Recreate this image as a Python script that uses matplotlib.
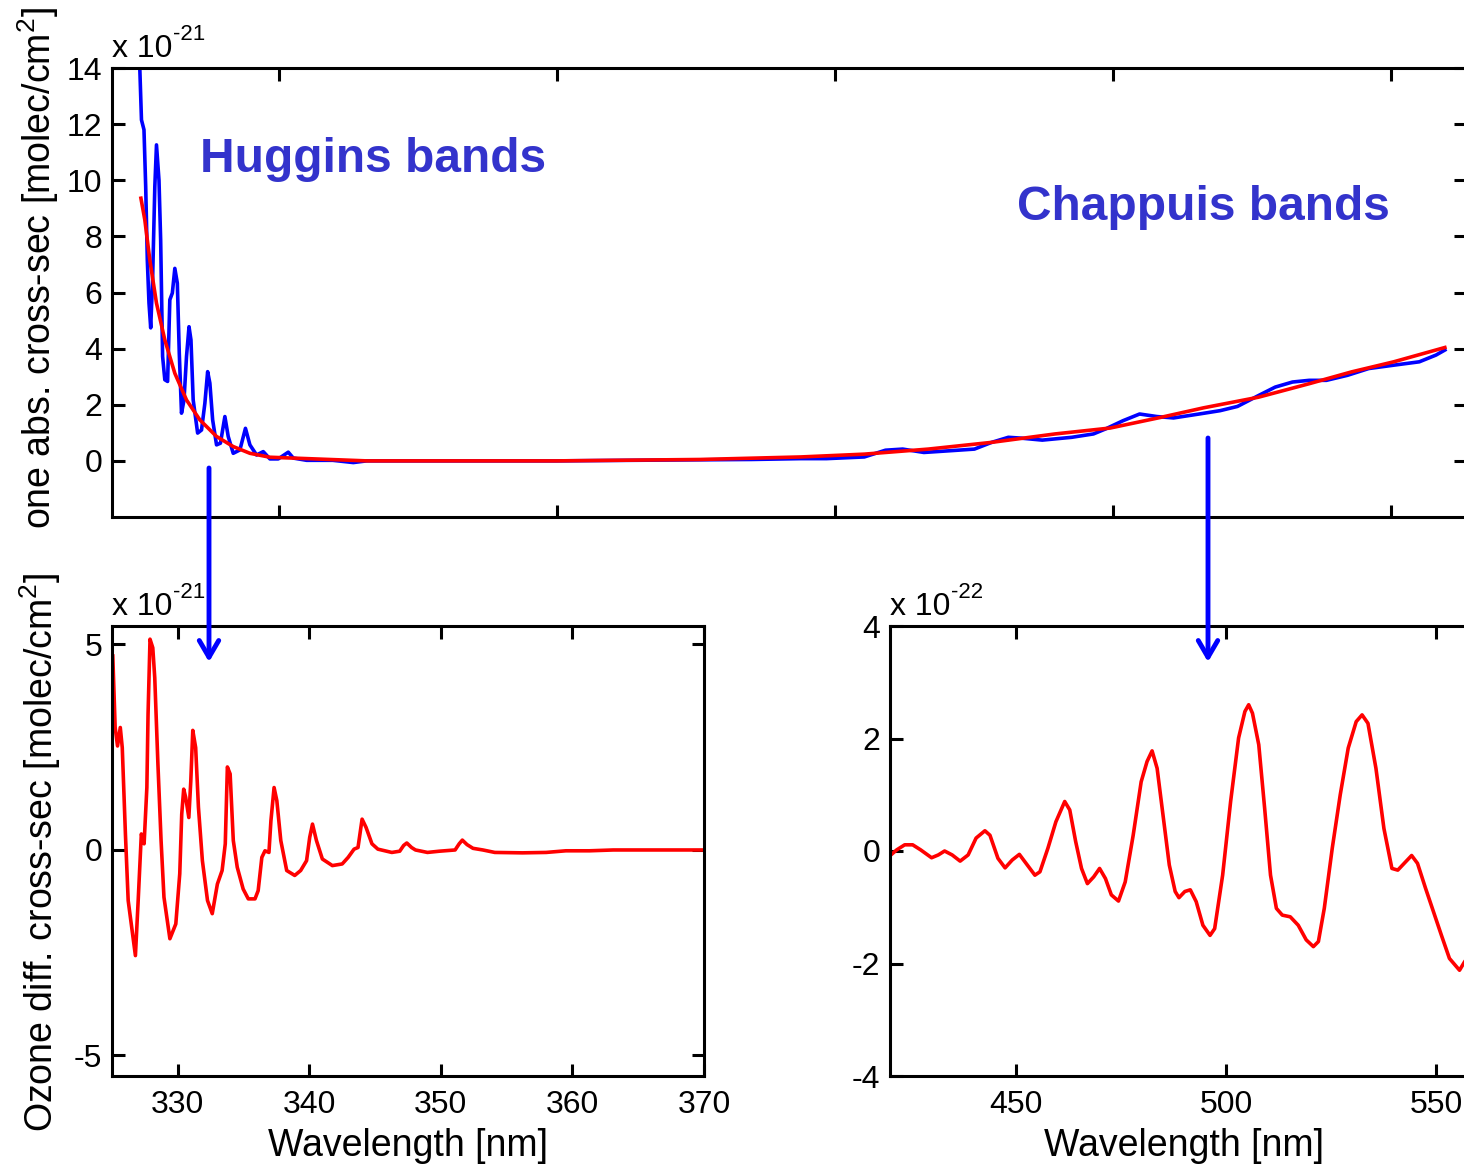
import numpy as np
import matplotlib
matplotlib.use("Agg")
import matplotlib.pyplot as plt
from matplotlib.patches import FancyArrowPatch

plt.rcParams['font.family'] = ['Liberation Sans', 'DejaVu Sans']
plt.rcParams['mathtext.fontset'] = 'custom'
plt.rcParams['mathtext.rm'] = 'Liberation Sans'
plt.rcParams['mathtext.default'] = 'rm'
plt.rcParams['axes.unicode_minus'] = False

# top panel: absorption cross-section (x 1e-21)
abs_wl = [324.9, 325.3, 325.75, 326.06, 326.35, 326.65, 326.96, 327.3, 327.7, 328.0,
          328.45, 328.75, 329.1, 329.5, 330.0, 330.4, 330.85, 331.3, 331.75, 332.1,
          332.5, 332.95, 333.4, 333.85, 334.2, 334.6, 335.4, 336.1, 336.7, 337.2,
          337.6, 338.1, 338.8, 339.5, 340.3, 340.9, 341.8, 343.0, 344.0, 344.8,
          346.0, 347.2, 348.4, 349.9, 351.7, 352.6, 355.0, 359.7, 363.4, 365.8,
          380.0, 400.0, 420.0, 435.0, 443.9, 448.5, 455.3, 459.1, 462.2, 466.0,
          470.6, 475.1, 478.2, 481.2, 483.5, 487.3, 492.6, 496.5, 498.7, 501.8,
          504.8, 507.9, 510.9, 515.5, 519.3, 522.4, 526.2, 529.2, 532.3, 535.3,
          538.4, 542.2, 546.0, 550.5, 555.1, 558.1, 559.7]
abs_val = [14.6, 12.15, 11.8, 9.77, 7.16, 5.63, 4.74, 6.45, 9.77, 11.26,
           10.0, 7.87, 3.72, 2.89, 2.83, 5.74, 5.98, 6.86, 6.33, 3.84,
           1.70, 2.17, 3.72, 4.78, 4.31, 2.17, 0.99, 1.10, 2.05, 3.18,
           2.77, 1.46, 0.57, 0.63, 1.58, 0.87, 0.27, 0.39, 1.16, 0.57,
           0.21, 0.33, 0.07, 0.07, 0.31, 0.10, 0.02, 0.02, -0.06, 0.0,
           0.0, 0.0, 0.03, 0.05, 0.08, 0.08, 0.14, 0.38, 0.42, 0.30,
           0.36, 0.42, 0.66, 0.84, 0.81, 0.74, 0.84, 0.96, 1.14, 1.43,
           1.67, 1.58, 1.53, 1.67, 1.79, 1.94, 2.33, 2.63, 2.81, 2.87,
           2.87, 3.05, 3.29, 3.41, 3.53, 3.77, 3.95]

# smooth part (x 1e-21)
smooth_wl = [325.2, 325.9, 326.8, 328.0, 329.5, 331.3, 333.4, 335.8, 338.8, 341.8,
             344.8, 348.4, 353.8, 365.8, 400.0, 425.8, 443.9, 455.3, 466.8, 478.2,
             489.6, 499.5, 508.6, 516.3, 526.2, 535.3, 542.9, 550.5, 559.7]
smooth_val = [9.36, 8.59, 7.16, 5.62, 4.31, 3.12, 2.17, 1.46, 0.87, 0.51,
              0.27, 0.13, 0.09, 0.0, 0.0, 0.05, 0.14, 0.24, 0.42, 0.66,
              0.96, 1.17, 1.55, 1.89, 2.27, 2.75, 3.17, 3.53, 4.04]

# Huggins differential cross-section (x 1e-21)
hug_wl = [325.06, 325.24, 325.42, 325.63, 325.78, 326.02, 326.23, 326.78, 326.99, 327.23,
          327.44, 327.65, 327.74, 327.89, 328.10, 328.25, 328.49, 328.73, 328.95, 329.40,
          329.85, 330.15, 330.30, 330.45, 330.60, 330.84, 330.99, 331.14, 331.36, 331.57,
          331.87, 332.26, 332.62, 333.01, 333.37, 333.61, 333.77, 333.98, 334.22, 334.52,
          334.97, 335.36, 335.87, 336.11, 336.39, 336.63, 336.93, 337.08, 337.32, 337.53,
          337.83, 338.28, 338.89, 339.34, 339.79, 340.03, 340.24, 340.54, 340.99, 341.75,
          342.50, 342.95, 343.40, 343.70, 344.01, 344.31, 344.76, 345.21, 346.27, 346.87,
          347.17, 347.41, 347.77, 348.07, 348.98, 349.88, 351.08, 351.39, 351.63, 351.99,
          352.44, 353.19, 354.10, 356.2, 358.0, 359.5, 361.3, 363.1, 366.1, 370.0]
hug_val = [4.72, 2.98, 2.53, 2.98, 2.49, 0.39, -1.23, -2.57, -1.23, 0.39,
           0.15, 1.52, 3.30, 5.13, 4.92, 4.19, 2.09, 0.23, -1.15, -2.16,
           -1.80, -0.58, 0.87, 1.48, 1.28, 0.79, 1.68, 2.91, 2.49, 1.04,
           -0.26, -1.23, -1.55, -0.83, -0.50, 0.15, 2.02, 1.85, 0.23, -0.42,
           -0.95, -1.19, -1.19, -0.99, -0.18, -0.02, -0.06, 0.71, 1.52, 1.20,
           0.23, -0.50, -0.62, -0.50, -0.26, 0.31, 0.63, 0.23, -0.22, -0.38,
           -0.34, -0.18, 0.02, 0.06, 0.75, 0.55, 0.15, 0.02, -0.06, -0.03,
           0.11, 0.17, 0.06, 0.0, -0.06, -0.03, 0.0, 0.15, 0.24, 0.13,
           0.04, 0.0, -0.06, -0.07, -0.06, -0.02, -0.02, 0.0, 0.0, 0.0]

# Chappuis differential cross-section (x 1e-22)
chap_wl = [420.2, 421.6, 423.5, 425.4, 427.3, 429.9, 431.5, 433.0, 434.8, 436.7,
           438.6, 440.5, 442.6, 443.8, 445.7, 447.4, 449.1, 450.8, 452.4, 454.5,
           455.7, 457.6, 459.5, 461.6, 462.8, 464.2, 465.6, 467.0, 468.5, 469.9,
           471.3, 472.7, 474.4, 476.0, 477.9, 479.8, 481.2, 482.4, 483.6, 485.0,
           486.5, 487.9, 488.8, 490.2, 491.5, 492.9, 494.5, 496.2, 497.3, 499.2,
           501.1, 503.0, 504.5, 505.4, 506.3, 507.8, 509.2, 510.6, 512.0, 513.4,
           515.3, 517.2, 519.1, 520.8, 522.0, 523.4, 525.3, 527.2, 529.1, 531.0,
           532.4, 533.8, 535.7, 537.6, 539.5, 540.9, 542.8, 544.2, 545.6, 547.5,
           549.4, 551.3, 553.2, 555.6, 556.8, 558.0]
chap_val = [-0.07, 0.02, 0.11, 0.11, 0.02, -0.12, -0.07, 0.0, -0.07, -0.18,
            -0.07, 0.23, 0.36, 0.28, -0.13, -0.30, -0.16, -0.06, -0.22, -0.43,
            -0.37, 0.05, 0.52, 0.88, 0.73, 0.17, -0.31, -0.58, -0.46, -0.31,
            -0.49, -0.78, -0.89, -0.55, 0.28, 1.23, 1.59, 1.78, 1.47, 0.64,
            -0.25, -0.72, -0.83, -0.72, -0.69, -0.90, -1.32, -1.50, -1.38, -0.43,
            0.88, 2.01, 2.48, 2.60, 2.45, 1.89, 0.76, -0.43, -1.02, -1.14,
            -1.17, -1.32, -1.58, -1.70, -1.61, -1.02, 0.05, 1.0, 1.83, 2.30,
            2.42, 2.27, 1.47, 0.40, -0.31, -0.34, -0.19, -0.08, -0.22, -0.66,
            -1.08, -1.50, -1.91, -2.12, -1.97, -1.85]

W, H = 1464, 1166
fig = plt.figure(figsize=(W / 100, H / 100), dpi=100)
fs = 23
lfs = 27


def style(ax):
    for s in ax.spines.values():
        s.set_linewidth(2.2)
    ax.tick_params(direction='in', length=9, width=2.2, labelsize=fs,
                   top=True, right=True, pad=7)
    ax.tick_params(axis='x', pad=10)


def exponent(ax, txt):
    # MATLAB style "x 10^-21" above the upper left corner
    t = ax.text(0.0, 1.008, 'x 10', transform=ax.transAxes,
                fontsize=fs, ha='left', va='bottom')
    ax.annotate(txt, xy=(1, 1), xycoords=t, xytext=(0.5, 0),
                textcoords='offset points', fontsize=16, ha='left', va='center')


# top panel
ax1 = fig.add_axes([112 / W, 1 - 517 / H, 1354 / W, 449 / H])
ax1.plot(abs_wl, abs_val, color='#0000ff', lw=2.6)
ax1.plot(smooth_wl, smooth_val, color='#ff0000', lw=2.6)
ax1.set_xlim(320, 563.5)
ax1.set_ylim(-2, 14)
ax1.set_xticks([350, 400, 450, 500, 550])
ax1.set_xticklabels([])
ax1.set_yticks(np.arange(0, 15, 2))
style(ax1)
exponent(ax1, '-21')
ax1.text(200 / W, 1 - 160 / H, 'Huggins bands', transform=fig.transFigure,
         color='#3333cc', fontsize=34.5, fontweight='bold', ha='left', va='center')
ax1.text(1017 / W, 1 - 207 / H, 'Chappuis bands', transform=fig.transFigure,
         color='#3333cc', fontsize=34.5, fontweight='bold', ha='left', va='center')
fig.text(38 / W, 1 - 268 / H, 'one abs. cross-sec [molec/cm$^2$]', rotation=90,
         fontsize=lfs, ha='center', va='center')

# bottom left: Huggins
ax2 = fig.add_axes([112 / W, 1 - 1076 / H, 592 / W, 450 / H])
ax2.plot(hug_wl, hug_val, color='#ff0000', lw=2.6)
ax2.set_xlim(325, 370)
ax2.set_ylim(-5.5, 5.45)
ax2.set_xticks([330, 340, 350, 360, 370])
ax2.set_yticks([-5, 0, 5])
style(ax2)
exponent(ax2, '-21')
ax2.set_xlabel('Wavelength [nm]', fontsize=lfs, labelpad=6)
fig.text(40 / W, 1 - 852 / H, 'Ozone diff. cross-sec [molec/cm$^2$]', rotation=90,
         fontsize=lfs, ha='center', va='center')

# bottom right: Chappuis
ax3 = fig.add_axes([890 / W, 1 - 1076 / H, 588 / W, 450 / H])
ax3.plot(chap_wl, chap_val, color='#ff0000', lw=2.6)
ax3.set_xlim(420, 560)
ax3.set_ylim(-4, 4)
ax3.set_xticks([450, 500, 550])
ax3.set_yticks([-4, -2, 0, 2, 4])
style(ax3)
exponent(ax3, '-22')
ax3.set_xlabel('Wavelength [nm]', fontsize=lfs, labelpad=6)

# arrows from overview to zooms
for x0, y0 in [(209, 468), (1208, 438)]:
    arr = FancyArrowPatch((x0 / W, 1 - y0 / H), (x0 / W, 1 - 662 / H),
                          transform=fig.transFigure, color='#0000ff', lw=3.5,
                          arrowstyle='->,head_length=0.6,head_width=0.35',
                          mutation_scale=20, shrinkA=0, shrinkB=0)
    fig.add_artist(arr)

fig.savefig('out.png', dpi=100)
